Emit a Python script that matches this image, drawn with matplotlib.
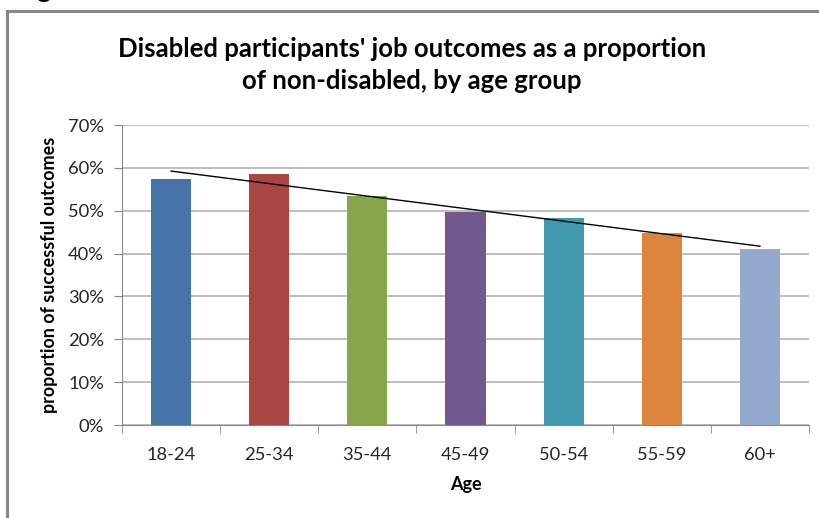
import matplotlib
matplotlib.use("Agg")
import matplotlib.pyplot as plt
import numpy as np
from matplotlib.lines import Line2D
from matplotlib.ticker import PercentFormatter

categories = ["18-24", "25-34", "35-44", "45-49", "50-54", "55-59", "60+"]
values = [57.4, 58.6, 53.4, 49.8, 48.4, 44.8, 41.0]
colors = ["#4674A8", "#A84644", "#87A54B", "#71588F", "#4199B0", "#DD843D", "#95A9D0"]
yticks = [0, 10, 20, 30, 40, 50, 60, 70]

plt.rcParams['font.family'] = ['Lato', 'DejaVu Sans']

W, H = 820, 518
fig = plt.figure(figsize=(W / 100, H / 100), dpi=100)
ax = fig.add_axes([122 / W, (H - 425) / H, (809 - 122) / W, 300 / H])

x = np.arange(len(categories))
ax.bar(x, values, width=0.41, color=colors, zorder=3)

# linear trendline
coef = np.polyfit(x, values, 1)
ax.plot(x, np.polyval(coef, x), color="black", lw=1.0, zorder=4)

ax.set_xlim(-0.5, len(categories) - 0.5)
ax.set_ylim(0, 70)
ax.set_yticks(yticks)
ax.yaxis.set_major_formatter(PercentFormatter(decimals=0))
ax.set_xticks(x)
ax.set_xticklabels(categories)
ax.set_xticks(np.arange(-0.5, len(categories)), minor=True)
ax.tick_params(axis='x', which='major', length=0, pad=16, labelsize=13.2, labelcolor="#262626")
ax.tick_params(axis='x', which='minor', length=6, color="#888888", direction='out')
ax.tick_params(axis='y', length=6, color="#888888", pad=7, labelsize=13.2, labelcolor="#262626")

ax.grid(axis='y', color="#b3b3b3", lw=1.2, zorder=0)
for s in ['top', 'right']:
    ax.spines[s].set_visible(False)
ax.spines['left'].set_color("#888888")
ax.spines['bottom'].set_color("#888888")

ax.set_xlabel("Age", fontsize=13, fontweight='bold', labelpad=9)
ax.set_ylabel("proportion of successful outcomes", fontsize=12.9, fontweight='bold', labelpad=7)

fig.text(0.5 + 2 / W, (H - 65) / H, "Disabled participants' job outcomes as a proportion\nof non-disabled, by age group",
         ha='center', va='center', fontsize=18.5, fontweight='bold', linespacing=1.42)

# chart border (cropped)
fig.add_artist(Line2D([7 / W, 7 / W], [0, (H - 11) / H], color="#888888", lw=2.2))
fig.add_artist(Line2D([7 / W, 1], [(H - 11) / H, (H - 11) / H], color="#888888", lw=2.2))

# cropped heading glyph above
fig.text(36 / W, (H + 3) / H, "g", fontsize=20, fontweight='bold', ha='left', va='baseline')

fig.savefig("out.png", dpi=100)
